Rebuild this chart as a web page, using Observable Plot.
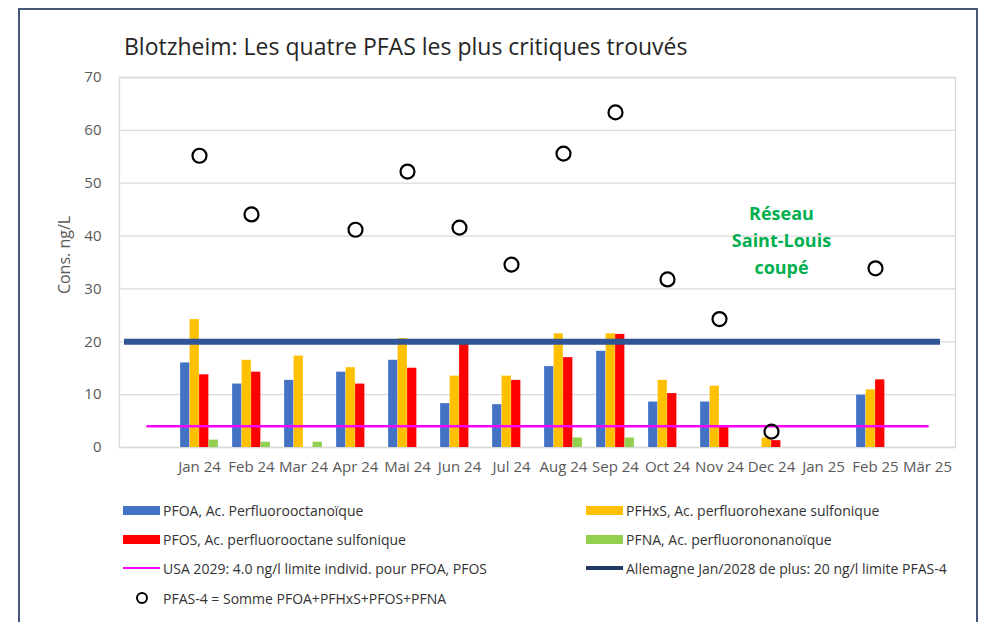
<!DOCTYPE html>
<html>
<head>
<meta charset="utf-8">
<script src="https://cdn.jsdelivr.net/npm/d3@7"></script>
<script src="https://cdn.jsdelivr.net/npm/@observablehq/plot@0.6"></script>
<style>
html, body { margin: 0; padding: 0; background: #fff; width: 982px; height: 622px; overflow: hidden; font-family: "Open Sans", sans-serif; }
#frame { position: absolute; left: 18px; top: 8px; width: 960px; height: 660px; border: 2px solid #46587a; box-sizing: border-box; }
#title { position: absolute; left: 124px; top: 31px; font-size: 23px; line-height: 30px; color: #262626; white-space: nowrap; }
#ylabel { position: absolute; left: 64px; top: 255px; transform: translate(-50%, -50%) rotate(-90deg); font-size: 16px; color: #595959; white-space: nowrap; }
#chart { position: absolute; left: 0; top: 60px; }
.item { position: absolute; height: 20px; display: flex; align-items: center; font-size: 14px; color: #333; white-space: nowrap; }
.sw { display: inline-block; width: 37px; margin-right: 3px; }
</style>
</head>
<body>
<div id="frame"></div>
<div id="title">Blotzheim: Les quatre PFAS les plus critiques trouvés</div>
<div id="chart"></div>
<div id="ylabel">Cons. ng/L</div>
<div id="legend"></div>
<script>
// ---- data ----
const months = ["Jan 24","Feb 24","Mar 24","Apr 24","Mai 24","Jun 24","Jul 24","Aug 24","Sep 24","Oct 24","Nov 24","Dec 24","Jan 25","Feb 25","Mär 25"];
const pfoa  = [16.0, 12.0, 12.7, 14.25, 16.5, 8.3, 8.1, 15.3, 18.2, 8.6, 8.6, null, null, 9.9, null];
const pfhxs = [24.2, 16.5, 17.3, 15.1, 20.6, 13.5, 13.5, 21.5, 21.5, 12.7, 11.6, 1.8, null, 10.9, null];
const pfos  = [13.75, 14.25, null, 12.0, 15.0, 19.8, 12.7, 17.0, 21.4, 10.2, 3.9, 1.3, null, 12.8, null];
const pfna  = [1.4, 1.0, 1.0, null, null, null, null, 1.8, 1.8, null, null, null, null, null, null];
const pfas4 = [55.2, 44.1, null, 41.2, 52.2, 41.6, 34.6, 55.6, 63.4, 31.8, 24.3, 3.0, null, 33.9, null];
const usaLimit = 4.0;
const deLimit = 20;
const yTicks = [0, 10, 20, 30, 40, 50, 60, 70];
const seriesNames = ["PFOA, Ac. Perfluorooctanoïque", "PFHxS, Ac. perfluorohexane sulfonique", "PFOS, Ac. perfluorooctane sulfonique", "PFNA, Ac. perfluorononanoïque"];
const usaLabel = "USA 2029: 4.0 ng/l limite individ. pour PFOA, PFOS";
const deLabel = "Allemagne Jan/2028 de plus: 20 ng/l limite PFAS-4";
const sumLabel = "PFAS-4 = Somme PFOA+PFHxS+PFOS+PFNA";
const noteText = "Réseau\nSaint-Louis\ncoupé";
const noteMonth = "Dec 24";
const noteValue = 39.6;

// ---- styles ----
const colors = ["#4472C4", "#FFC000", "#FF0000", "#92D050"];
const series = [pfoa, pfhxs, pfos, pfna];
const domainX = [""].concat(months);
const width = 982, height = 420;
const marginLeft = 119, marginRight = 27, marginTop = 17, marginBottom = 33;
const bw = (width - marginLeft - marginRight) / domainX.length;
const barW = 9.5;
const start0 = (bw - 4 * barW) / 2;

const barMarks = series.map((arr, k) => {
  const rows = months.map((m, i) => ({m, v: arr[i]})).filter(d => d.v != null);
  const il = start0 + k * barW;
  return Plot.barY(rows, {x: "m", y: "v", fill: colors[k], insetLeft: il, insetRight: bw - il - barW});
});

const sumRows = months.map((m, i) => ({m, v: pfas4[i]})).filter(d => d.v != null);

const chart = Plot.plot({
  width, height, marginLeft, marginRight, marginTop, marginBottom,
  style: {fontFamily: "Open Sans, sans-serif", fontSize: "15px", background: "transparent", overflow: "visible"},
  x: {type: "band", domain: domainX, padding: 0, label: null},
  y: {domain: [0, 70], label: null},
  marks: [
    Plot.gridY(yTicks, {stroke: "#d9d9d9", strokeOpacity: 1, strokeWidth: 1.3}),
    Plot.frame({stroke: "#d9d9d9", strokeWidth: 1.3}),
    Plot.axisY(yTicks, {tickSize: 0, tickPadding: 18, fill: "#595959", fontSize: 15, label: null}),
    Plot.axisX({tickSize: 0, tickPadding: 14, fill: "#595959", fontSize: 15, label: null}),
    ...barMarks,
    Plot.lineY(domainX, {x: d => d, y: () => usaLimit, stroke: "#FF00FF", strokeWidth: 2.5}),
    Plot.ruleY([deLimit], {stroke: "#2F5597", strokeWidth: 6, insetLeft: 5, insetRight: 15}),
    Plot.dot(sumRows, {x: "m", y: "v", r: 7, stroke: "#000", strokeWidth: 2.2, fill: "none"}),
    Plot.text([noteText], {x: () => noteMonth, y: () => noteValue, text: d => d, dx: 10, fill: "#00B050", fontWeight: "bold", fontSize: 18, lineHeight: 1.5})
  ]
});
document.getElementById("chart").appendChild(chart);

// ---- legend ----
const legend = document.getElementById("legend");
function addItem(x, y, swatchHTML, label) {
  const d = document.createElement("div");
  d.className = "item";
  d.style.left = x + "px";
  d.style.top = (y - 10) + "px";
  d.innerHTML = swatchHTML + "<span>" + label + "</span>";
  legend.appendChild(d);
}
const col1 = 123, col2 = 586;
const rows = [510, 539, 568, 598];
const barSw = c => `<span class="sw" style="height:9px;background:${c}"></span>`;
const lineSw = (c, h) => `<span class="sw" style="height:${h}px;background:${c}"></span>`;
addItem(col1, rows[0], barSw(colors[0]), seriesNames[0]);
addItem(col2, rows[0], barSw(colors[1]), seriesNames[1]);
addItem(col1, rows[1], barSw(colors[2]), seriesNames[2]);
addItem(col2, rows[1], barSw(colors[3]), seriesNames[3]);
addItem(col1, rows[2], lineSw("#FF00FF", 2.5), usaLabel);
addItem(col2, rows[2], lineSw("#203864", 3.5), deLabel);
addItem(col1, rows[3], `<span class="sw" style="height:14px;display:flex;justify-content:center;align-items:center"><svg width="14" height="14"><circle cx="7" cy="7" r="5" fill="none" stroke="#000" stroke-width="2"/></svg></span>`, sumLabel);
</script>
</body>
</html>
